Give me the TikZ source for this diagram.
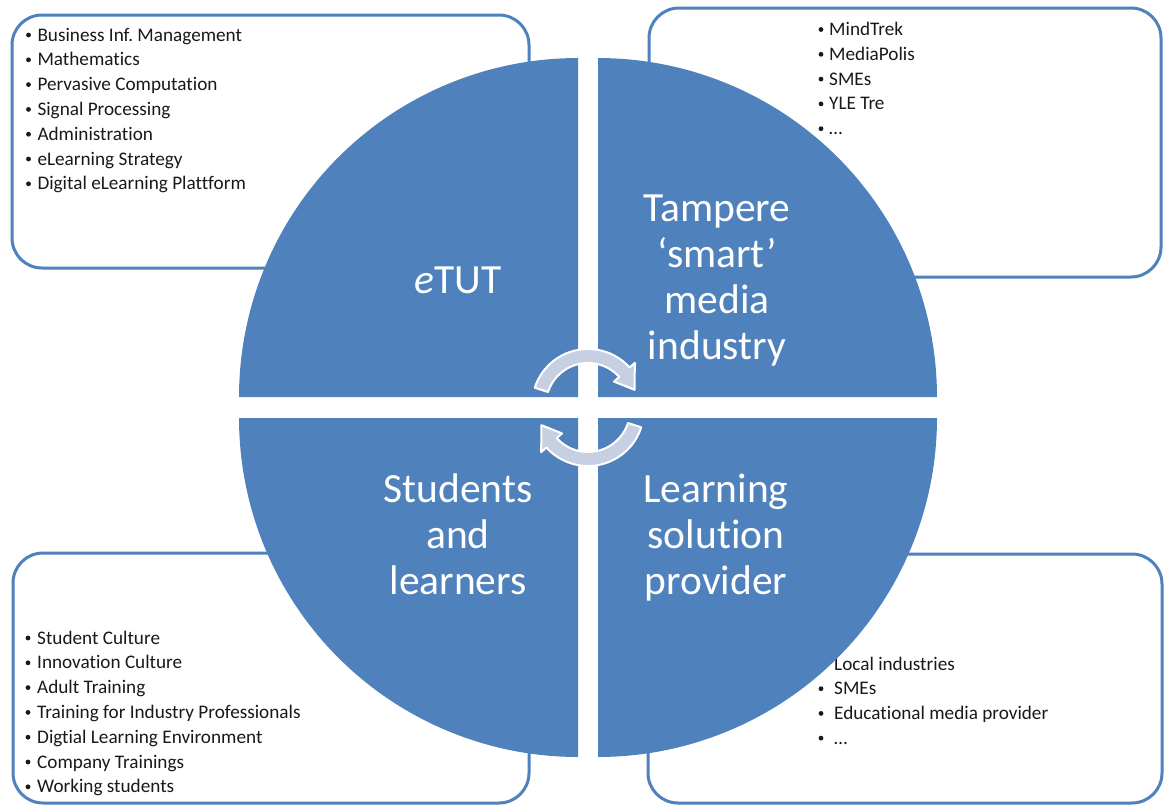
\documentclass[tikz,border=0pt]{standalone}
\usepackage{fontspec}
\setmainfont{Carlito}[Ligatures=NoCommon]
\frenchspacing
\definecolor{qblue}{RGB}{79,129,189}
\definecolor{boxblue}{RGB}{79,129,189}
\definecolor{arrowfill}{RGB}{199,208,226}
\definecolor{txt}{RGB}{25,25,25}
\begin{document}
\begin{tikzpicture}[x=1pt,y=-1pt,
  listbox/.style={draw=boxblue, line width=3pt, rounded corners=30pt, fill=white},
  item/.style={anchor=base west, inner sep=0pt, text=txt, font=\fontsize{19.2}{22}\selectfont},
  bigtext/.style={anchor=base, inner sep=0pt, text=white, font=\fontsize{41.5}{46}\selectfont},
  quad/.style={fill=qblue},
  cyc/.style={fill=arrowfill, draw=white, line width=2pt, line join=round}]
\useasboundingbox (0,0) rectangle (1165,807);
\fill[white] (0,0) rectangle (1165,807);
% list boxes
\draw[listbox] (12,15) rectangle (529,268);
\draw[listbox] (649,8) rectangle (1161,277);
\draw[listbox] (13,553) rectangle (529,803);
\draw[listbox] (648,554) rectangle (1162,803);
% lists
\foreach \t [count=\i] in {Business Inf. Management,Mathematics,Pervasive Computation,Signal Processing,Administration,eLearning Strategy,Digital eLearning Plattform}{
  \pgfmathsetmacro\yy{41+24.8*(\i-1)}
  \fill[txt] (28.5,\yy-6) circle (2.4);
  \node[item] (tl\i) at (37.3,\yy) {\t};
}
\foreach \t [count=\i] in {MindTrek,MediaPolis,SMEs,YLE Tre,…}{
  \pgfmathsetmacro\yy{35.5+24.8*(\i-1)}
  \fill[txt] (821,\yy-6) circle (2.4);
  \node[item] (tr\i) at (829,\yy) {\t};
}
\foreach \t [count=\i] in {Student Culture,Innovation Culture,Adult Training,Training for Industry Professionals,Digtial Learning Environment,Company Trainings,Working students}{
  \pgfmathsetmacro\yy{644+24.8*(\i-1)}
  \fill[txt] (28,\yy-6) circle (2.4);
  \node[item] (bl\i) at (37,\yy) {\t};
}
\foreach \t [count=\i] in {Local industries,SMEs,Educational media provider,…}{
  \pgfmathsetmacro\yy{670+24.7*(\i-1)}
  \fill[txt] (821,\yy-6) circle (2.4);
  \node[item] (br\i) at (834,\yy) {\t};
}
% quadrants
\fill[quad] (578,397) -- plot[domain=180:270, samples=80] ({578+339*cos(\x)},{397+339*sin(\x)}) -- cycle;
\fill[quad] (598,397) -- plot[domain=270:360, samples=80] ({598+339*cos(\x)},{397+339*sin(\x)}) -- cycle;
\fill[quad] (598,418) -- plot[domain=0:90, samples=80] ({598+339*cos(\x)},{418+339*sin(\x)}) -- cycle;
\fill[quad] (578,418) -- plot[domain=90:180, samples=80] ({578+339*cos(\x)},{418+339*sin(\x)}) -- cycle;
% labels
\node[bigtext] (etut) at (458,293) {\textit{e}TUT};
\node[bigtext] (tam1) at (717,221) {Tampere};
\node[bigtext] (tam2) at (717,267) {‘smart’};
\node[bigtext] (tam3) at (717,313) {media};
\node[bigtext] (tam4) at (717,359) {industry};
\node[bigtext] (stu1) at (458,502) {Students};
\node[bigtext] (stu2) at (458,548) {and};
\node[bigtext] (stu3) at (458,594) {learners};
\node[bigtext] (lea1) at (716,502) {Learning};
\node[bigtext] (lea2) at (716,548) {solution};
\node[bigtext] (lea3) at (716,594) {provider};
% cycle arrows
\draw[cyc] plot[domain=198:318, samples=40] ({588+56*cos(\x)},{405+56*sin(\x)})
  -- ({588+63*cos(318)},{405+63*sin(318)})
  -- ({588+49*cos(342)},{405+49*sin(342)})
  -- ({588+35*cos(318)},{405+35*sin(318)})
  -- plot[domain=318:198, samples=40] ({588+42*cos(\x)},{405+42*sin(\x)}) -- cycle;
\draw[cyc] plot[domain=18:138, samples=40] ({588+56*cos(\x)},{410+56*sin(\x)})
  -- ({588+63*cos(138)},{410+63*sin(138)})
  -- ({588+49*cos(162)},{410+49*sin(162)})
  -- ({588+35*cos(138)},{410+35*sin(138)})
  -- plot[domain=138:18, samples=40] ({588+42*cos(\x)},{410+42*sin(\x)}) -- cycle;
\end{tikzpicture}
\end{document}
